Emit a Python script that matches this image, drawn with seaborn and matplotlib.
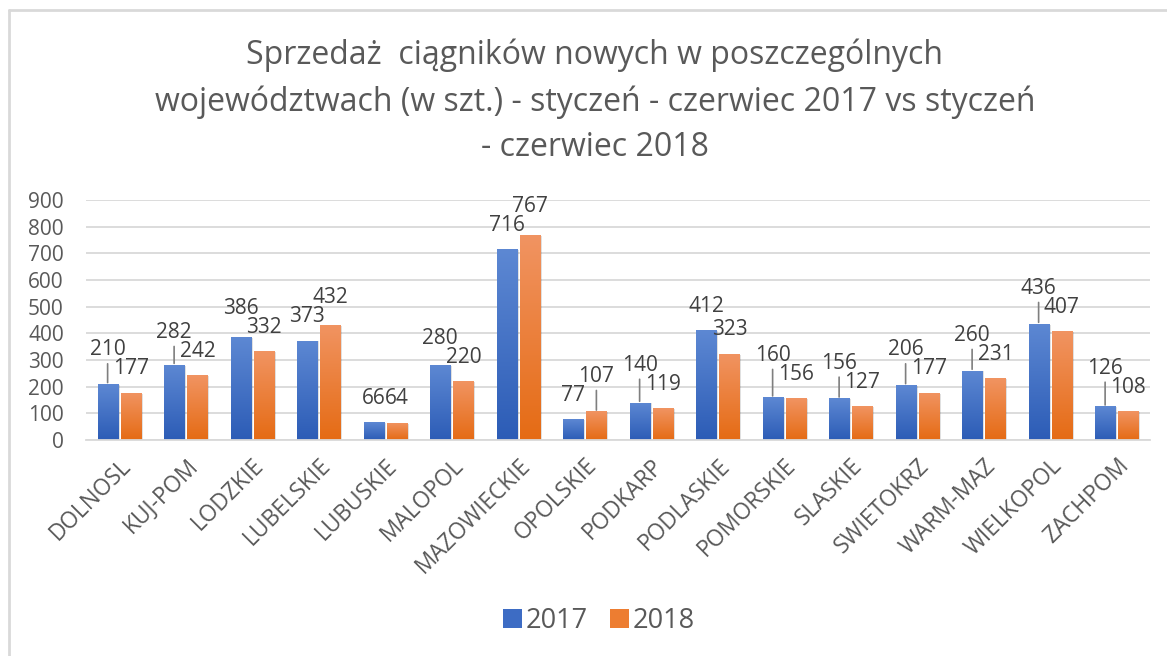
import numpy as np
import pandas as pd
import matplotlib
matplotlib.use("Agg")
import matplotlib.pyplot as plt
import seaborn as sns
from matplotlib.colors import LinearSegmentedColormap
from matplotlib.patches import Patch
from matplotlib.lines import Line2D

wojewodztwa = ["DOLNOSL", "KUJ-POM", "LODZKIE", "LUBELSKIE", "LUBUSKIE", "MALOPOL",
               "MAZOWIECKIE", "OPOLSKIE", "PODKARP", "PODLASKIE", "POMORSKIE", "SLASKIE",
               "SWIETOKRZ", "WARM-MAZ", "WIELKOPOL", "ZACHPOM"]
sprzedaz_2017 = [210, 282, 386, 373, 66, 280, 716, 77, 140, 412, 160, 156, 206, 260, 436, 126]
sprzedaz_2018 = [177, 242, 332, 432, 64, 220, 767, 107, 119, 323, 156, 127, 177, 231, 407, 108]
lata = ["2017", "2018"]
title_lines = ["Sprzedaż  ciągników nowych w poszczególnych",
               "województwach (w szt.) - styczeń - czerwiec 2017 vs styczeń",
               "- czerwiec 2018"]

df = pd.DataFrame({
    "woj": wojewodztwa * 2,
    "szt": sprzedaz_2017 + sprzedaz_2018,
    "rok": ["2017"] * len(wojewodztwa) + ["2018"] * len(wojewodztwa),
})

sns.set_style("white")
plt.rcParams["font.family"] = ["Open Sans", "DejaVu Sans"]
TXT = "#595959"

W, H = 1167, 656
fig = plt.figure(figsize=(W / 100, H / 100), dpi=100)
ax = fig.add_axes([86 / W, 1 - 440 / H, (1150 - 86) / W, 240 / H])

colors = {"2017": "#4472c4", "2018": "#ed7d31"}
sns.barplot(data=df, x="woj", y="szt", hue="rok", palette=colors, width=0.7, gap=0.14,
            legend=False, ax=ax, saturation=1)

ax.set_ylim(0, 900)
ax.set_xlim(-0.5, len(wojewodztwa) - 0.5)
ax.set_yticks(range(0, 901, 100))
ax.yaxis.grid(True, color="#d9d9d9", lw=1.3)
ax.set_axisbelow(True)
for s in ["top", "right", "left"]:
    ax.spines[s].set_visible(False)
ax.spines["bottom"].set_color("#d9d9d9")
ax.spines["bottom"].set_linewidth(1.3)
ax.set_xlabel("")
ax.set_ylabel("")
ax.tick_params(axis="y", length=0, pad=16, labelsize=15, labelcolor=TXT)
ax.tick_params(axis="x", length=0, pad=10, labelsize=16.3, labelcolor=TXT)
for lab in ax.get_xticklabels():
    lab.set_rotation(45)
    lab.set_ha("right")
    lab.set_va("top")
    lab.set_rotation_mode("anchor")

# gradient fill like Excel
grads = {
    "2017": LinearSegmentedColormap.from_list("b", ["#2c5cb6", "#5d88d3"]),
    "2018": LinearSegmentedColormap.from_list("o", ["#e56b14", "#f19462"]),
}
grad = np.linspace(0, 1, 256).reshape(-1, 1)
bars = list(ax.patches)
n = len(wojewodztwa)
for k, p in enumerate(bars):
    rok = lata[k // n]
    x0, y0 = p.get_x(), p.get_y()
    w, h = p.get_width(), p.get_height()
    # subtle shadow
    ax.bar(x0 + w / 2 + 0.03, h, width=w, bottom=y0 - 3, color="#000000", alpha=0.12,
           zorder=1.5, linewidth=0)
    im = ax.imshow(grad, cmap=grads[rok], origin="lower", aspect="auto",
                   extent=[x0, x0 + w, y0, y0 + h], zorder=2)
    im.set_clip_path(p)
    p.set_facecolor("none")
    p.set_edgecolor("none")
ax.set_ylim(0, 900)
ax.set_xlim(-0.5, n - 0.5)

# data labels with simple "best fit" placement
px_per_unit = 240 / 900
base = 24
sep = 19
slot_px = (bars[n].get_x() - bars[0].get_x()) * 1064 / n
for i in range(n):
    vals = [sprzedaz_2017[i], sprzedaz_2018[i]]
    pats = [bars[i], bars[n + i]]
    lab_y = [v * px_per_unit + base for v in vals]
    widths = [len(str(v)) * 11.8 for v in vals]
    if (widths[0] + widths[1]) / 2 > slot_px + 1 and abs(lab_y[0] - lab_y[1]) < sep:
        hi = 0 if vals[0] >= vals[1] else 1
        lab_y[hi] = lab_y[1 - hi] + sep
    for v, p, ly in zip(vals, pats, lab_y):
        xc = p.get_x() + p.get_width() / 2
        off = ly - v * px_per_unit
        ax.annotate(str(v), (xc, v), xytext=(0, off), textcoords="offset pixels",
                    ha="center", va="center", fontsize=15, color="#404040", zorder=5)
        if off > 30:
            ax.annotate("", (xc, v), xytext=(0, off - 14), textcoords="offset pixels",
                        arrowprops=dict(arrowstyle="-", color="#7f7f7f", lw=1.2,
                                        shrinkA=0, shrinkB=1))

# title
for t, yp in zip(title_lines, [55, 102, 148]):
    fig.text(595 / W, 1 - yp / H, t, ha="center", va="center", fontsize=23, color=TXT)

# legend
handles = [Patch(facecolor="#3d6cc4", edgecolor="none"), Patch(facecolor="#ed7d31", edgecolor="none")]
fig.legend(handles, lata, loc="center", bbox_to_anchor=(599 / W, 1 - 621 / H), ncol=2,
           frameon=False, fontsize=19.5, handlelength=0.7, handleheight=0.7, handletextpad=0.15,
           columnspacing=0.8, labelcolor=TXT)

# chart frame
fig.add_artist(Line2D([9 / W, 9 / W], [0, 1 - 10 / H], transform=fig.transFigure,
                      color="#d9d9d9", lw=2))
fig.add_artist(Line2D([9 / W, 1], [1 - 10 / H, 1 - 10 / H], transform=fig.transFigure,
                      color="#d9d9d9", lw=2))

fig.savefig("out.png", dpi=100)
